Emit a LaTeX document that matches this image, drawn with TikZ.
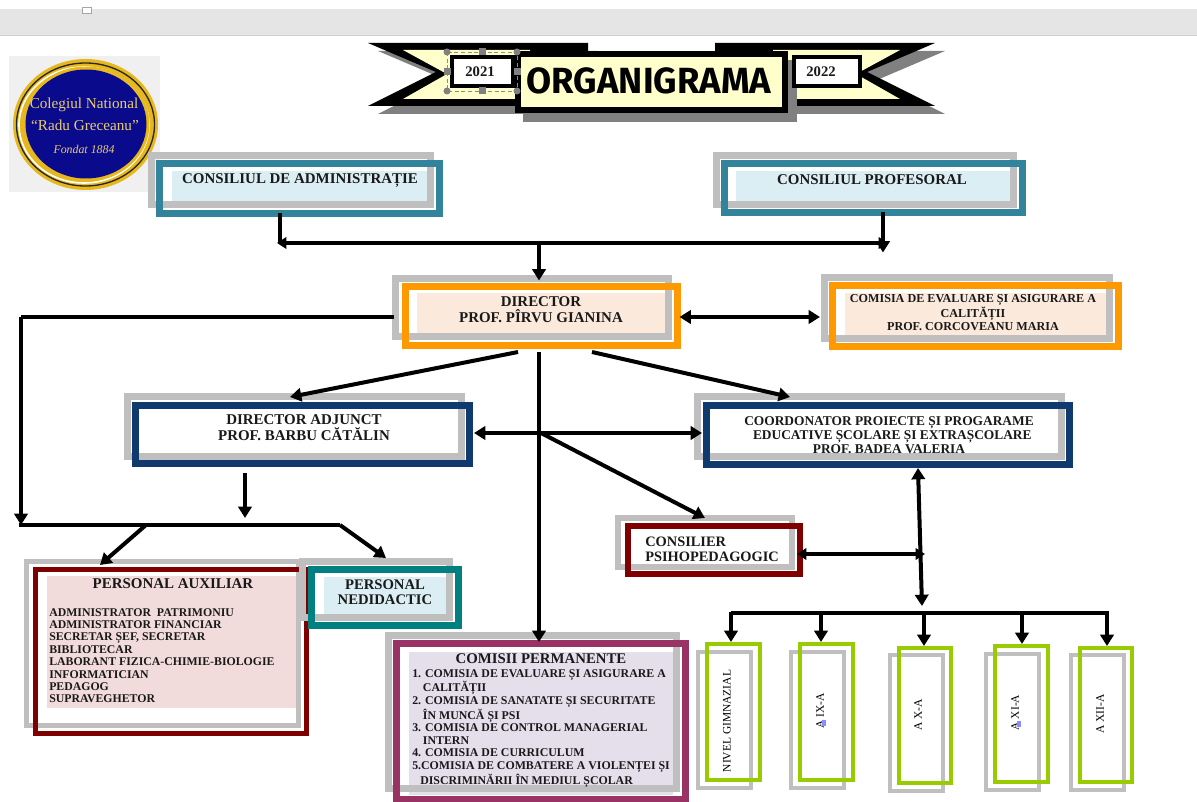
\documentclass[tikz,border=0pt]{standalone}
\usepackage{fontspec}
\setmainfont{Liberation Serif}
\newfontfamily\titlefont{Fira Sans}
\usetikzlibrary{arrows.meta,fit,calc}
\definecolor{graybox}{HTML}{BFBFBF}
\definecolor{tealA}{HTML}{31849B}
\definecolor{blueF}{HTML}{DAEEF3}
\definecolor{orangeA}{HTML}{FF9900}
\definecolor{peachF}{HTML}{FBE9DB}
\definecolor{navyA}{HTML}{0F3A6E}
\definecolor{maroonA}{HTML}{7F0000}
\definecolor{pinkF}{HTML}{F2DCDB}
\definecolor{tealB}{HTML}{008080}
\definecolor{plumA}{HTML}{993366}
\definecolor{lilacF}{HTML}{E5DFEC}
\definecolor{limeA}{HTML}{99CC00}
\definecolor{creamF}{HTML}{FFFFCC}
\definecolor{goldA}{HTML}{E6B81E}
\definecolor{goldT}{HTML}{E8CC70}
\definecolor{logoBlue}{HTML}{0A0A8C}
\tikzset{
  conn/.style={line width=3pt,draw=black,line join=miter},
  arr/.style={conn,-{Triangle[length=8.5pt,width=10pt]}},
  darr/.style={conn,{Triangle[length=8.5pt,width=10pt]}-{Triangle[length=8.5pt,width=10pt]}},
  sarr/.style={conn,{Triangle[length=7pt,width=8.5pt]}-{Triangle[length=7pt,width=8.5pt]}},
  lab/.style={font=\bfseries\fontsize{11.2}{12}\selectfont,align=center,inner sep=0pt,text=black!90},
  vlab/.style={font=\fontsize{8.6}{9}\selectfont,rotate=90,inner sep=0pt},
  hnd/.style={fill=black!50,draw=none},
}
% name, colour, border width, gray width, gray rect, fit corners, fill rect, fill colour
\newcommand{\tribox}[8]{%
  \fill[#8] #7;
  \draw[graybox,line width=#4] #5;
  \node[fit={#6},inner sep=0pt,outer sep=0pt,draw=#2,line width=#3] (#1) {};
}
\begin{document}
\begin{tikzpicture}[x=0.75pt,y=-0.75pt]
\useasboundingbox (0,0) rectangle (1197,802);
% window bar
\fill[black!10] (0,9) rectangle (1197,36);
\draw[black!18,line width=0.75pt] (0,36) -- (1197,36);
\draw[black!35,line width=0.5pt,fill=white] (82.5,7) rectangle (91,13);
% logo
\fill[black!6] (9,56) rectangle (160,192);
\fill[goldA] (85.5,124.5) ellipse [x radius=72.5,y radius=65.5];
\draw[black!85,line width=1pt] (85.5,124.5) ellipse [x radius=69,y radius=61.5];
\draw[white,line width=1.2pt] (84,125) ellipse [x radius=65,y radius=58];
\draw[goldA,line width=1.5pt] (86,124) ellipse [x radius=62.5,y radius=56.5];
\fill[logoBlue] (86,124) ellipse [x radius=60.5,y radius=54.5];
\node[inner sep=0pt,text=goldT,font=\fontsize{11.4}{12}\selectfont] (logoA) at (84,105) {Colegiul National};
\node[inner sep=0pt,text=goldT,font=\fontsize{11.4}{12}\selectfont] (logoB) at (85,125) {“Radu Greceanu”};
\node[inner sep=0pt,text=goldT,font=\itshape\fontsize{8.9}{9}\selectfont] (logoC) at (84,149) {Fondat 1884};
% banner
\fill[black!50] (378,51) -- (598,51) -- (598,114) -- (378,114) -- (446,80) -- cycle;
\fill[black!50] (725,51) -- (945,51) -- (877,80) -- (945,114) -- (725,114) -- cycle;
\fill[black] (368,43) -- (588,43) -- (588,106) -- (368,106) -- (436,72) -- cycle;
\fill[black] (715,43) -- (935,43) -- (867,72) -- (935,106) -- (715,106) -- cycle;
\fill[creamF] (403,50) -- (530,50) -- (530,99) -- (403,99) -- (447,74) -- cycle;
\fill[creamF] (773,50) -- (900,50) -- (856,74) -- (900,99) -- (773,99) -- cycle;
\fill[black!50] (523,60) rectangle (797,122);
\node[fit={(518,54)(785,110)},inner sep=0pt,outer sep=0pt,draw=black,line width=4.5pt,fill=creamF] (titleBox) {};
\node[inner sep=0pt,font=\titlefont\bfseries\fontsize{27.3}{28}\selectfont] (titleText) at (649,81) {ORGANIGRAMA};
\node[fit={(452,57)(513,86)},inner sep=0pt,outer sep=0pt,draw=black,line width=3pt,fill=white] (yearA) {};
\node[lab,font=\bfseries\fontsize{11}{12}\selectfont] (yearAt) at (480,71.5) {2021};
\node[fit={(794,57)(860,86)},inner sep=0pt,outer sep=0pt,draw=black,line width=3pt,fill=white] (yearB) {};
\node[lab,font=\bfseries\fontsize{11}{12}\selectfont] (yearBt) at (821,71.5) {2022};
% selection handles
\draw[black!45,line width=0.5pt,densely dashed] (447,52) rectangle (517,91);
\foreach \hx/\hy in {447/52,517/52,447/91,517/91} \fill[hnd] (\hx,\hy) circle [radius=3.5];
\foreach \hx/\hy in {482/52,447/72,517/72,482/91} \fill[hnd] (\hx-3.5,\hy-3.5) rectangle (\hx+3.5,\hy+3.5);
% boxes
\tribox{admin}{tealA}{5.25pt}{5.25pt}{(151.5,155.5) rectangle (430.5,204.5)}{(159.5,163.5)(439.5,213.5)}{(172,171) rectangle (427,205)}{blueF}
\tribox{prof}{tealA}{5.25pt}{5.25pt}{(716.5,155.5) rectangle (1013.5,204.5)}{(724.5,163.5)(1022.5,212.5)}{(736,171) rectangle (1010,205)}{blueF}
\tribox{dirr}{orangeA}{5.25pt}{5.25pt}{(395.5,278.5) rectangle (668.5,336.5)}{(405.5,286.5)(677.5,345.5)}{(417,293) rectangle (665,338)}{peachF}
\tribox{cea}{orangeA}{5.25pt}{5.25pt}{(824.5,277.5) rectangle (1109.5,338.5)}{(832.5,285.5)(1118.5,346.5)}{(845,293) rectangle (1106,338)}{peachF}
\tribox{adj}{navyA}{5.25pt}{5.25pt}{(127.5,396.5) rectangle (461.5,456.5)}{(135.5,405.5)(469.5,463.5)}{(140,410) rectangle (465,459)}{white}
\tribox{coord}{navyA}{5.25pt}{5.25pt}{(697.5,396.5) rectangle (1061.5,456.5)}{(706.5,405.5)(1069.5,464.5)}{(711,410) rectangle (1065,460)}{white}
\tribox{cons}{maroonA}{4.5pt}{4.5pt}{(618,518) rectangle (792,567)}{(628,526)(800,574)}{(632,530) rectangle (796,570)}{white}
\tribox{aux}{maroonA}{3.75pt}{3.75pt}{(26.5,561.5) rectangle (298.5,725.5)}{(35.5,569.5)(306.5,733.5)}{(47,576) rectangle (296,708)}{pinkF}
\tribox{ned}{tealB}{5.25pt}{5.25pt}{(302.5,561.5) rectangle (449.5,617.5)}{(311.5,569.5)(458.5,625.5)}{(324,577) rectangle (446,617)}{blueF}
\tribox{com}{plumA}{5.25pt}{5.25pt}{(388.5,635.5) rectangle (676.5,788.5)}{(396.5,643.5)(685.5,799)}{(409,652) rectangle (673,795)}{lilacF}
\tribox{gA}{limeA}{3pt}{3pt}{(698,652) rectangle (751,788)}{(707,644)(760,780)}{(709,646) rectangle (758,778)}{white}
\tribox{gB}{limeA}{3pt}{3pt}{(791,652) rectangle (844,788)}{(800,644)(853,780)}{(802,646) rectangle (851,778)}{white}
\tribox{gC}{limeA}{3pt}{3pt}{(890,655) rectangle (943,791)}{(899,648)(951,783)}{(901,650) rectangle (949,781)}{white}
\tribox{gD}{limeA}{3pt}{3pt}{(986,654) rectangle (1039,790)}{(995,646)(1048,782)}{(997,648) rectangle (1046,780)}{white}
\tribox{gE}{limeA}{3pt}{3pt}{(1071,655) rectangle (1124,790)}{(1080,648)(1132,782)}{(1082,650) rectangle (1130,780)}{white}
% texts
\node[lab] (adminT) at (300,180) {CONSILIUL DE ADMINISTRAȚIE};
\node[lab] (profT) at (872,180) {CONSILIUL PROFESORAL};
\node[lab,font=\bfseries\fontsize{11.2}{12}\selectfont] (dirT) at (541,309.5) {DIRECTOR\\PROF. PÎRVU GIANINA};
\node[lab,font=\bfseries\fontsize{9.1}{9.8}\selectfont] (ceaT) at (973,313) {COMISIA DE EVALUARE ȘI ASIGURARE A\\CALITĂȚII\\PROF. CORCOVEANU MARIA};
\node[lab,font=\bfseries\fontsize{11.2}{12}\selectfont] (adjT) at (304,428) {DIRECTOR ADJUNCT\\PROF. BARBU CĂTĂLIN};
\node[lab,font=\bfseries\fontsize{10.05}{10.5}\selectfont] (coordT) at (889,435) {COORDONATOR PROIECTE ȘI PROGARAME\\\hspace*{5pt}EDUCATIVE ȘCOLARE ȘI EXTRAȘCOLARE\\PROF. BADEA VALERIA};
\node[lab,font=\bfseries\fontsize{10.8}{11.3}\selectfont,align=left,anchor=west] (consT) at (645,549.5) {CONSILIER\\PSIHOPEDAGOGIC};
\node[lab,font=\bfseries\fontsize{11.2}{12}\selectfont] (auxH) at (173,584) {PERSONAL AUXILIAR};
\node[lab,font=\bfseries\fontsize{8.85}{9.3}\selectfont,align=left,anchor=north west] (auxT) at (49,608) {ADMINISTRATOR\ \ PATRIMONIU\\ADMINISTRATOR FINANCIAR\\SECRETAR ȘEF, SECRETAR\\BIBLIOTECAR\\LABORANT FIZICA-CHIMIE-BIOLOGIE\\INFORMATICIAN\\PEDAGOG\\SUPRAVEGHETOR};
\node[lab,font=\bfseries\fontsize{11}{11.5}\selectfont] (nedT) at (385,592.5) {PERSONAL\\NEDIDACTIC};
\node[lab,font=\bfseries\fontsize{11.1}{12}\selectfont] (comH) at (541,659) {COMISII PERMANENTE};
\node[lab,font=\bfseries\fontsize{8.9}{9.45}\selectfont,align=left,anchor=north west] (comT) at (412,669) {1. COMISIA DE EVALUARE ȘI ASIGURARE A\\\hspace*{8pt}CALITĂȚII\\2. COMISIA DE SANATATE ȘI SECURITATE\\\hspace*{8pt}ÎN MUNCĂ ȘI PSI\\3. COMISIA DE CONTROL MANAGERIAL\\\hspace*{8pt}INTERN\\4. COMISIA DE CURRICULUM\\5.COMISIA DE COMBATERE A VIOLENȚEI ȘI\\\hspace*{6pt}DISCRIMINĂRII ÎN MEDIUL ȘCOLAR};
\node[vlab] (gAT) at (727,721) {NIVEL GIMNAZIAL};
\node[vlab] (gBT) at (820,711) {A IX-A};
\node[vlab] (gCT) at (918,715) {A X-A};
\node[vlab] (gDT) at (1015,712.5) {A XI-A};
\node[vlab] (gET) at (1100,714) {A XII-A};
\fill[blue!45] (822,720) rectangle (826,726);
\fill[blue!45] (1017,721) rectangle (1021,727);
% junctions
\coordinate (busL) at (277,243);
\coordinate (busR) at (888,243);
\coordinate (busA) at (280,243);
\coordinate (busB) at (539,243);
\coordinate (leftTop) at (21,317);
\coordinate (leftBot) at (21,525);
\coordinate (adjEnd) at (245,518);
\coordinate (hubL) at (21,525);
\coordinate (hubR) at (340,525);
\coordinate (hubB) at (146,525);
\coordinate (midHub) at (541,433);
\coordinate (vHub) at (925,554);
\coordinate (vEnd) at (922,606);
\coordinate (dA) at (731,613);
\coordinate (dB) at (821,613);
\coordinate (dC) at (924,613);
\coordinate (dD) at (1022,613);
\coordinate (dE) at (1107,613);
\coordinate (dEnd) at (1109,613);
% connectors
\draw[conn] (busA |- admin.south) -- (busA);
\draw[arr] ($(prof.south)+(9.5,0)$) -- ($(prof.south)+(9.5,40)$);
\draw[sarr] (busL) -- (busR);
\draw[arr] (busB) -- ($(dirr.north)+(-2.5,-6)$);
\draw[conn] ($(dirr.west)+(-12,1)$) -- (leftTop);
\draw[arr] (leftTop) -- (leftBot);
\draw[conn] ($(hubL)+(-2,0)$) -- (hubR) -- ++(0,0);
\draw[arr] (hubR) -- ($(ned.north)+(1,-11.5)$);
\draw[arr] (hubB) -- ($(aux.north)+(-71,-4.5)$);
\draw[arr] ($(adj.south)+(-57.5,9.5)$) -- (adjEnd);
\draw[arr] ($(dirr.south)+(-23.5,6.5)$) -- ($(adj.north)+(-12.5,-8.5)$);
\draw[arr] ($(dirr.south)+(-2.5,6.5)$) -- ($(com.north)+(-2,-1.5)$);
\draw[arr] ($(dirr.south)+(50.5,6.5)$) -- ($(coord.north)+(-98,-8.5)$);
\draw[darr] ($(dirr.east)+(2,1)$) -- ($(cea.west)+(-12.5,1)$);
\draw[darr] ($(adj.east)+(4.5,-1.5)$) -- ($(coord.west)+(-4.5,-2)$);
\draw[arr] (midHub) -- ($(cons.north)+(-9,-8)$);
\draw[sarr] ($(cons.east)+(-3,4)$) -- (vHub);
\draw[darr] ($(coord.south)+(30,3.5)$) -- (vEnd);
\draw[conn] (dA) -- (dEnd);
\foreach \d/\g in {dA/gA,dB/gB,dC/gC,dD/gD,dE/gE}
  \draw[arr,shorten >=1.5pt] ($(\d)+(0,-1.5)$) -- (\d |- \g.north);
\end{tikzpicture}
\end{document}
